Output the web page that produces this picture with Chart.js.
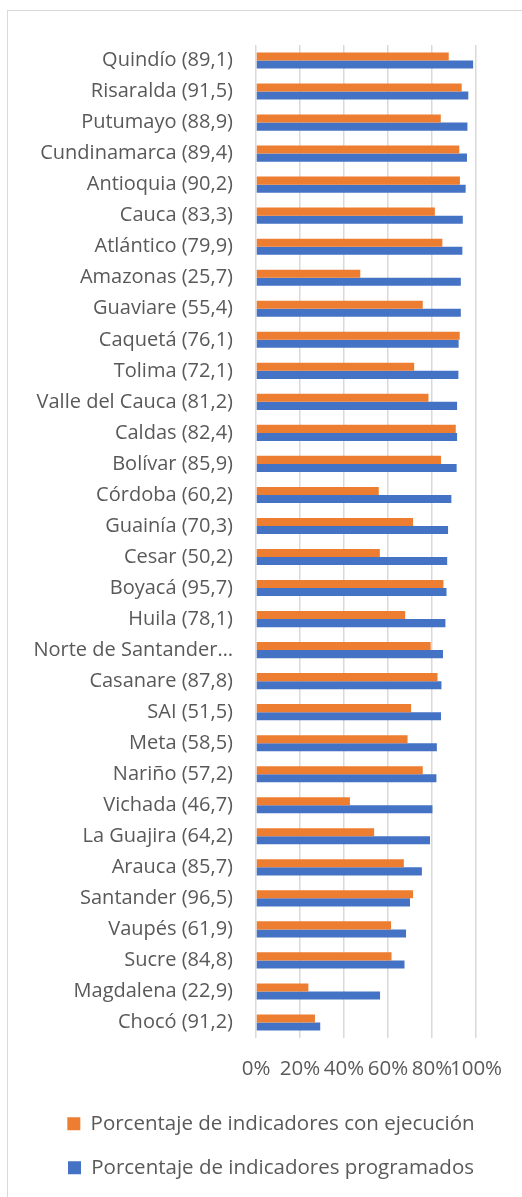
<!DOCTYPE html>
<html>
<head>
<meta charset="utf-8">
<script src="https://cdn.jsdelivr.net/npm/chart.js@4.4.1/dist/chart.umd.min.js"></script>
<style>
  html, body { margin: 0; padding: 0; background: #ffffff; }
  #wrap { position: relative; width: 522px; height: 1197px; overflow: hidden; }
  #frame { position: absolute; left: 7px; top: 10px; width: 700px; height: 1400px; border: 1px solid #d9d9d9; box-sizing: border-box; }
  #c { position: absolute; left: 0; top: 0; }
</style>
</head>
<body>
<div id="wrap">
  <div id="frame"></div>
  <canvas id="c" width="522" height="1197"></canvas>
</div>
<script>
const categories = [
  "Quindío (89,1)", "Risaralda (91,5)", "Putumayo (88,9)", "Cundinamarca (89,4)",
  "Antioquia (90,2)", "Cauca (83,3)", "Atlántico (79,9)", "Amazonas (25,7)",
  "Guaviare (55,4)", "Caquetá (76,1)", "Tolima (72,1)", "Valle del Cauca (81,2)",
  "Caldas (82,4)", "Bolívar (85,9)", "Córdoba (60,2)", "Guainía (70,3)",
  "Cesar (50,2)", "Boyacá (95,7)", "Huila (78,1)", "Norte de Santander…",
  "Casanare (87,8)", "SAI (51,5)", "Meta (58,5)", "Nariño (57,2)",
  "Vichada (46,7)", "La Guajira (64,2)", "Arauca (85,7)", "Santander (96,5)",
  "Vaupés (61,9)", "Sucre (84,8)", "Magdalena (22,9)", "Chocó (91,2)"
];
const ejecucion = [
  87.6, 93.5, 84.0, 92.4, 92.7, 81.3, 84.7, 47.4,
  75.8, 92.6, 71.9, 78.4, 90.8, 84.1, 55.8, 71.4,
  56.3, 85.2, 67.8, 79.4, 82.5, 70.5, 68.9, 75.8,
  42.7, 53.7, 67.2, 71.4, 61.4, 61.6, 23.8, 26.8
];
const programados = [
  98.7, 96.5, 96.1, 95.9, 95.3, 94.0, 93.8, 93.1,
  93.1, 92.1, 92.0, 91.4, 91.4, 91.2, 88.8, 87.3,
  86.9, 86.6, 86.1, 85.0, 84.3, 84.1, 82.2, 82.0,
  80.2, 79.1, 75.4, 70.0, 68.2, 67.5, 56.4, 29.2
];
const xTicks = [0, 20, 40, 60, 80, 100];
const seriesNames = ["Porcentaje de indicadores con ejecución", "Porcentaje de indicadores programados"];

const FONT = "'Open Sans', 'Noto Sans', sans-serif";
const TXT = "#595959";

new Chart(document.getElementById('c'), {
  type: 'bar',
  data: {
    labels: categories,
    datasets: [
      { label: seriesNames[0], data: ejecucion, backgroundColor: '#ED7D31', borderWidth: 0,
        categoryPercentage: 0.52, barPercentage: 1.0 },
      { label: seriesNames[1], data: programados, backgroundColor: '#4472C4', borderWidth: 0,
        categoryPercentage: 0.52, barPercentage: 1.0 }
    ]
  },
  options: {
    indexAxis: 'y',
    responsive: false,
    animation: false,
    devicePixelRatio: 1,
    layout: { padding: { top: 45, right: 0, bottom: 9, left: 20 } },
    scales: {
      x: {
        min: 0, max: 100,
        afterBuildTicks: (s) => { s.ticks = xTicks.map(v => ({ value: v })); },
        afterFit: (s) => { s.height = 52; },
        grid: { color: '#d9d9d9', lineWidth: 1.5, drawTicks: false },
        border: { display: false },
        ticks: {
          autoSkip: false, maxRotation: 0, padding: 19, color: TXT,
          font: { family: FONT, size: 20.5 },
          callback: (v) => v + '%'
        }
      },
      y: {
        afterFit: (s) => { s.width = 236; },
        grid: { display: false, drawTicks: false },
        border: { display: false },
        ticks: { autoSkip: false, padding: 23, color: TXT, font: { family: FONT, size: 20 } }
      },
      y2: {
        position: 'right',
        afterFit: (s) => { s.width = 46; },
        grid: { display: false, drawTicks: false },
        border: { display: false },
        ticks: { display: false }
      }
    },
    plugins: {
      legend: {
        position: 'bottom',
        labels: {
          boxWidth: 13, boxHeight: 13, padding: 23.5, color: TXT,
          font: { family: FONT, size: 20.5 }
        }
      },
      tooltip: { enabled: false }
    }
  }
});
</script>
</body>
</html>
